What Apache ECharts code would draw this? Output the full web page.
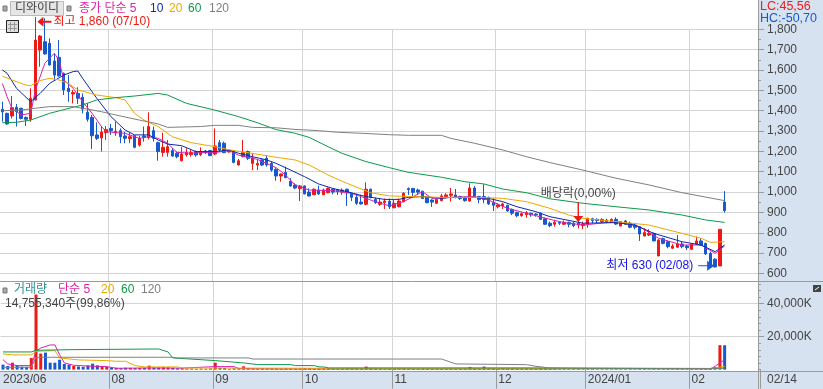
<!DOCTYPE html>
<html>
<head>
<meta charset="utf-8">
<style>html,body{margin:0;padding:0;background:#d6e2f0}#chart{width:823px;height:389px}</style>
<script src="https://cdn.jsdelivr.net/npm/echarts@6/dist/echarts.min.js"></script>
</head>
<body>
<div id="chart"></div>
<script>
// [open, close, low, high]
const candles = [
  [1407,1394,1346,1444],[1387,1335,1330,1390],[1374,1415,1362,1472],[1417,1395,1322,1433],[1412,1362,1357,1414],
  [1367,1358,1325,1371],[1358,1461,1346,1510],[1453,1747,1450,1860],[1698,1767,1616,1772],[1739,1679,1675,1854],
  [1731,1625,1621,1756],[1644,1575,1551,1682],[1662,1571,1568,1747],[1584,1502,1477,1587],[1510,1494,1444,1575],
  [1482,1489,1436,1502],[1485,1461,1433,1515],[1466,1408,1387,1485],[1392,1358,1346,1436],[1367,1277,1212,1379],
  [1281,1264,1256,1343],[1266,1295,1199,1325],[1292,1308,1256,1325],[1313,1302,1281,1335],[1292,1299,1276,1346],
  [1302,1272,1240,1313],[1276,1264,1240,1297],[1263,1272,1240,1292],[1277,1220,1215,1281],[1231,1264,1223,1276],
  [1276,1269,1248,1322],[1268,1322,1259,1392],[1302,1264,1248,1322],[1243,1199,1154,1248],[1195,1220,1174,1292],
  [1195,1223,1174,1256],[1204,1177,1174,1215],[1191,1174,1166,1199],[1154,1187,1151,1223],[1182,1195,1174,1215],
  [1184,1194,1174,1207],[1199,1182,1174,1204],[1184,1199,1177,1220],[1202,1194,1187,1207],[1204,1179,1177,1207],
  [1187,1227,1182,1313],[1243,1207,1199,1256],[1240,1194,1191,1248],[1197,1204,1194,1207],[1199,1146,1141,1204],
  [1133,1154,1130,1163],[1174,1194,1171,1256],[1199,1166,1158,1204],[1141,1168,1108,1190],[1133,1141,1108,1161],
  [1158,1133,1128,1161],[1166,1133,1125,1182],[1141,1108,1100,1149],[1112,1079,1056,1117],[1079,1089,1051,1092],
  [1097,1071,1068,1125],[1053,1030,1027,1068],[1035,1020,1014,1043],[1017,1030,956,1035],[1030,991,989,1033],
  [1000,981,978,1018],[987,1014,986,1018],[1010,991,986,1032],[987,1010,986,1017],[997,1018,994,1023],
  [1014,1000,989,1017],[1010,1002,986,1015],[1000,1010,986,1018],[1014,997,932,1017],[994,974,956,997],
  [974,945,937,991],[951,942,938,986],[940,1014,935,1048],[1014,974,969,1017],[964,948,942,973],
  [940,951,932,969],[948,956,917,968],[955,928,917,968],[923,945,920,961],[928,956,925,968],
  [953,994,950,1000],[1017,1012,986,1023],[1018,999,978,1020],[1010,1000,986,1017],[1004,968,966,1007],
  [974,948,945,978],[961,951,927,964],[945,964,942,968],[958,981,955,991],[978,986,969,994],
  [984,991,953,1020],[986,973,969,1015],[978,968,961,982],[973,958,953,978],[956,1020,953,1043],
  [1020,978,974,1030],[978,963,945,982],[978,963,945,1038],[973,942,937,978],[948,935,907,969],
  [928,937,920,945],[932,942,917,948],[935,907,904,938],[915,896,887,919],[899,884,876,904],
  [884,894,879,899],[889,899,874,907],[896,888,879,899],[892,888,879,896],[896,866,863,899],
  [869,842,838,874],[847,835,827,855],[842,851,830,863],[851,847,838,855],[842,851,838,860],
  [851,842,827,855],[847,835,827,855],[838,847,822,858],[835,843,817,855],[842,871,825,874],
  [869,860,847,874],[866,860,847,871],[855,866,850,871],[863,855,847,869],[853,866,850,871],
  [866,843,838,876],[833,855,833,855],[858,842,838,863],[847,827,822,855],[838,827,817,847],
  [830,794,760,833],[784,801,784,822],[789,797,784,817],[797,760,758,801],[686,765,686,768],
  [771,748,743,776],[756,732,724,761],[724,735,722,745],[729,745,727,789],[745,732,724,756],
  [735,727,715,740],[719,745,715,748],[745,760,740,781],[760,740,735,773],[748,696,691,751],
  [699,645,642,707],[670,632,630,675],[637,817,637,817],[951,909,899,1005]
];

const volumes = [
  3000,2200,4200,2600,1800,1700,7000,45500,9700,10300,4200,4200,6000,3400,3000,2200,1900,1700,2500,3600,
  2600,2200,1700,1200,1100,900,1100,1000,900,1000,1100,2400,1300,1300,1500,1400,1100,800,900,600,
  600,500,600,500,700,4200,1100,1000,500,800,700,2000,1000,800,700,700,700,800,
  700,600,800,700,500,600,900,800,700,700,800,600,500,400,500,900,800,600,500,
  1800,1000,700,500,400,600,500,600,900,500,500,400,700,500,400,500,600,400,500,500,400,400,
  1600,900,600,1800,1000,800,500,800,700,800,700,600,800,500,600,900,700,500,400,300,300,300,300,400,300,
  500,400,300,300,300,300,400,300,300,300,300,500,400,300,400,900,500,400,300,400,300,300,400,500,400,
  600,800,1600,14800,14755
];

// moving averages, read as [candle index, value] at the turning points
const ma5 = [[0,1534],[1,1469],[2,1412],[4,1379],[6,1387],[7,1502],[9,1633],[11,1682],[12,1649],[13,1551],[15,1510],[17,1444],[19,1387],[21,1322],[22,1297],[24,1292],[26,1289],[29,1264],[31,1272],[33,1264],[35,1240],[37,1195],[40,1191],[42,1194],[45,1194],[48,1204],[50,1182],[54,1161],[58,1120],[60,1084],[62,1035],[65,1010],[70,1007],[74,994],[79,953],[82,932],[85,953],[89,1002],[91,969],[95,974],[100,978],[103,961],[107,920],[111,896],[116,866],[119,850],[123,838],[130,855],[135,830],[139,773],[144,740],[148,740],[151,699],[153,735]];
const ma10 = [[0,1600],[1,1584],[3,1510],[6,1444],[8,1485],[10,1534],[13,1575],[15,1592],[16,1595],[17,1559],[20,1461],[23,1371],[26,1305],[28,1281],[31,1281],[33,1256],[35,1236],[38,1228],[41,1199],[45,1199],[48,1207],[50,1191],[53,1174],[56,1158],[58,1141],[61,1109],[64,1076],[67,1040],[70,1018],[73,1002],[77,978],[81,964],[84,964],[86,974],[89,978],[93,969],[95,974],[100,974],[103,969],[106,953],[109,928],[113,904],[116,879],[123,847],[130,850],[134,838],[138,797],[144,756],[148,740],[151,707],[153,740]];
const ma20 = [[0,1570],[2,1551],[5,1526],[6,1523],[8,1548],[10,1559],[12,1551],[14,1534],[16,1502],[20,1477],[24,1464],[26,1453],[28,1387],[30,1354],[33,1322],[36,1272],[40,1243],[45,1223],[49,1204],[53,1190],[58,1171],[62,1158],[65,1133],[69,1084],[73,1043],[78,997],[82,981],[87,978],[93,974],[97,974],[101,974],[106,969],[111,953],[116,920],[120,887],[123,871],[130,855],[137,838],[144,797],[148,773],[150,753],[153,756]];
const ma60 = [[0,1341],[3,1343],[6,1354],[10,1387],[15,1417],[17,1428],[20,1453],[24,1464],[28,1472],[33,1485],[35,1477],[39,1436],[45,1403],[50,1371],[54,1341],[58,1307],[62,1289],[65,1269],[69,1223],[72,1190],[77,1150],[82,1120],[86,1097],[93,1073],[98,1051],[102,1040],[106,1015],[111,997],[116,967],[123,945],[130,928],[137,912],[144,887],[149,863],[153,851]];
const ma120 = [[0,1400],[4,1403],[7,1412],[10,1420],[15,1420],[17,1412],[21,1395],[24,1379],[29,1354],[33,1335],[35,1318],[42,1322],[45,1328],[50,1328],[53,1318],[58,1316],[62,1308],[67,1302],[71,1294],[76,1289],[82,1282],[86,1279],[93,1279],[95,1264],[100,1240],[106,1207],[111,1174],[116,1145],[123,1108],[130,1068],[137,1035],[144,997],[153,958]];

const volMa5 = [[0,6060],[1,3434],[3,2424],[6,2424],[7,11100],[8,13100],[10,14950],[11,14950],[12,9090],[13,4040],[15,2626],[19,2020],[22,1818],[24,808],[31,1010],[38,900],[45,1818],[49,1818],[50,606],[58,400],[116,400],[125,600],[150,500],[151,2020],[152,4040],[153,6060]];
const volMa20 = [[0,9500],[2,8900],[6,8900],[7,11100],[11,11500],[12,7070],[16,5860],[22,5450],[24,5050],[26,5050],[28,2424],[30,1616],[37,1616],[38,1000],[69,800],[116,800],[125,500],[150,600],[153,2000]];
const volMa60 = [[0,10700],[6,10700],[7,11700],[15,12100],[33,12500],[35,10700],[36,7070],[45,5450],[51,4040],[54,3030],[61,3030],[62,2424],[66,2424],[67,1616],[68,1616],[69,1000],[113,1000],[125,800],[150,500],[153,900]];
const volMa120 = [[0,1400],[6,1400],[7,7470],[36,7470],[37,7070],[52,7070],[53,6400],[93,6400],[96,3434],[111,3000],[113,2000],[116,1000],[150,700],[153,900]];

const monthStarts = [0, 23, 45, 64, 83, 105, 124, 146];
const monthLabels = ['2023/06', '08', '09', '10', '11', '12', '2024/01', '02'];
const priceTicks = [600, 700, 800, 900, 1000, 1100, 1200, 1300, 1400, 1500, 1600, 1700, 1800];
const priceMinorTicks = [650, 750, 850, 950, 1050, 1150, 1250, 1350, 1450, 1550, 1650, 1750];
const volumeTicks = [20000, 40000];
const volumeMinorTicks = [0, 4000, 8000, 12000, 16000, 24000, 28000, 32000, 36000, 44000, 48000, 52000];

const highMark = { index: 7, price: 1860, text: '최고 1,860 (07/10)' };
const lowMark = { index: 151, price: 630, text: '최저 630 (02/08)' };
const dividendMark = { index: 122, price: 902, text: '배당락(0,00%)' };

const slotCount = 161; // 154 days + empty room on the right
const categories = [];
for (let i = 0; i < slotCount; i++) {
  const m = monthStarts.indexOf(i);
  categories.push(m >= 0 ? monthLabels[m] : '');
}

const RED = '#ec1a14', BLUE = '#1659cc', GRID = '#d4d4d4', AXIS = '#9a9a9a', PANEL = '#d6e2f0', INK = '#444';
const C5 = '#dc1fae', C10 = '#0c2aa8', C20 = '#eea800', C60 = '#0d9a48', C120 = '#808080';
const FONT = '"Liberation Sans","Noto Sans CJK KR",sans-serif';

const isMonth = i => monthStarts.indexOf(i) >= 0;
const isInnerMonth = i => i > 0 && isMonth(i);
const kLabel = v => echarts.format.addCommas(v) + 'K';

function label(text, x, y, fill, size) {
  return { type: 'text', z: 20, style: { text, x, y, fill, font: (size || 12) + 'px ' + FONT, textVerticalAlign: 'middle' } };
}
function rect(x, y, width, height, fill, z, stroke) {
  return { type: 'rect', z, shape: { x, y, width, height }, style: { fill, stroke: stroke || null, lineWidth: stroke ? 1 : 0 } };
}
function line(x1, y1, x2, y2, stroke, z) {
  return { type: 'line', z, shape: { x1, y1, x2, y2 }, style: { stroke, lineWidth: 1 } };
}
function maLine(name, data, color, xi, yi) {
  return { name, type: 'line', xAxisIndex: xi, yAxisIndex: yi, data, symbol: 'none', silent: true, z: 3, lineStyle: { color, width: 1 } };
}
function sideAxis(gridIndex, min, max, ticks, tickLen, showLabels, split, formatter) {
  return {
    type: 'value', gridIndex, position: 'right', min, max, offset: -2, scale: true,
    axisLine: { show: false },
    axisTick: { show: true, customValues: ticks, length: tickLen, lineStyle: { color: AXIS } },
    axisLabel: showLabels
      ? { show: true, customValues: ticks, margin: 9, color: INK, fontFamily: FONT, fontSize: 12, align: 'left', formatter }
      : { show: false },
    splitLine: { show: split, lineStyle: { color: GRID } }
  };
}

const chart = echarts.init(document.getElementById('chart'));

const option = {
  animation: false,
  backgroundColor: PANEL,
  grid: [
    { left: 0, top: 0, width: 760, height: 281 },
    { left: 0, top: 282, width: 760, height: 87.6 }
  ],
  xAxis: [
    {
      type: 'category', gridIndex: 0, data: categories, boundaryGap: true,
      axisLine: { show: false }, axisTick: { show: false }, axisLabel: { show: false },
      splitLine: { show: true, interval: isInnerMonth, showMaxLine: false, lineStyle: { color: GRID } }
    },
    {
      type: 'category', gridIndex: 1, data: categories, boundaryGap: true,
      axisLine: { show: false },
      axisTick: { show: true, interval: isInnerMonth, length: 19, lineStyle: { color: AXIS } },
      axisLabel: {
        show: true, interval: isMonth, align: 'left', margin: 4,
        color: INK, fontFamily: FONT, fontSize: 12, hideOverlap: false
      },
      splitLine: { show: true, interval: isInnerMonth, showMaxLine: false, lineStyle: { color: GRID } }
    }
  ],
  yAxis: [
    sideAxis(0, 563, 1944, priceTicks, 6, true, true),
    sideAxis(0, 563, 1944, priceMinorTicks, 3, false, false),
    sideAxis(1, 0, 53090, volumeTicks, 6, true, true, kLabel),
    sideAxis(1, 0, 53090, volumeMinorTicks, 3, false, false)
  ],
  series: [
    {
      name: '종가', type: 'candlestick', xAxisIndex: 0, yAxisIndex: 0, data: candles,
      barWidth: 3, silent: true,
      itemStyle: { color: RED, color0: BLUE, borderColor: RED, borderColor0: BLUE, borderWidth: 1 },
      markPoint: {
        silent: true,
        data: [
          {
            coord: [highMark.index, highMark.price], symbol: 'path://M0,5 L6,0 L6,4 L14,4 L14,6 L6,6 L6,10 Z',
            symbolSize: [14, 10], symbolOffset: [9, 4.6], itemStyle: { color: RED },
            label: { show: true, formatter: highMark.text, position: 'right', distance: 2, color: RED, fontFamily: FONT, fontSize: 12 }
          },
          {
            coord: [lowMark.index, lowMark.price], symbol: 'path://M0,4.4 L9,4.4 L9,0 L16,5 L9,10 L9,5.6 L0,5.6 Z',
            symbolSize: [16, 10], symbolOffset: [-9, -1.6], itemStyle: { color: BLUE },
            label: { show: true, formatter: lowMark.text, position: 'left', distance: 5, color: '#1414e0', fontFamily: FONT, fontSize: 12 }
          },
          {
            coord: [dividendMark.index, dividendMark.price], symbol: 'path://M4.3,0 L5.7,0 L5.7,14 L10,14 L5,20 L0,14 L4.3,14 Z',
            symbolSize: [10, 20], itemStyle: { color: RED },
            label: { show: true, formatter: dividendMark.text, position: 'top', distance: 2, color: INK, fontFamily: FONT, fontSize: 12 }
          }
        ]
      }
    },
    maLine('5', ma5, C5, 0, 0),
    maLine('10', ma10, C10, 0, 0),
    maLine('20', ma20, C20, 0, 0),
    maLine('60', ma60, C60, 0, 0),
    maLine('120', ma120, C120, 0, 0),
    {
      name: '거래량', type: 'bar', xAxisIndex: 1, yAxisIndex: 2, barWidth: 3, silent: true,
      data: volumes.map((v, i) => ({ value: v, itemStyle: { color: candles[i][1] >= candles[i][0] ? RED : BLUE } }))
    },
    maLine('v5', volMa5, C5, 1, 2),
    maLine('v20', volMa20, C20, 1, 2),
    maLine('v60', volMa60, C60, 1, 2),
    maLine('v120', volMa120, C120, 1, 2)
  ],
  graphic: { elements: [
    // panes
    rect(0, 0, 758, 371, '#fff', -1),
    rect(0, 0, 758, 29, '#fff', 1), // month lines stop at the 1,800 line
    line(0, 281.5, 823, 281.5, AXIS, 1),
    line(0, 371.5, 823, 371.5, AXIS, 1),
    line(758.5, 0, 758.5, 389, AXIS, 1),

    // price legend
    rect(3, 6, 4, 5, '#aaa', 20, '#777'),
    rect(10.5, 1.5, 53, 14, '#e6e6e6', 19, '#bbb'),
    label('디와이디', 15, 9, INK),
    rect(67, 6, 4, 5, '#aaa', 20, '#777'),
    label('종가 단순 5', 79, 9, C5),
    label('10', 150, 9, C10),
    label('20', 169, 9, C20),
    label('60', 188, 9, C60),
    label('120', 209, 9, C120),

    // table icon
    rect(6.5, 20.5, 12, 12, '#ddd', 20, '#222'),
    line(10.5, 22, 10.5, 31, '#999', 21),
    line(14.5, 22, 14.5, 31, '#999', 21),
    line(8, 24.5, 17, 24.5, '#999', 21),
    line(8, 28.5, 17, 28.5, '#999', 21),

    // LC / HC box sits over the top tick label
    rect(759, 0, 64, 24, PANEL, 19),
    label('LC:45,56', 760, 7, '#ee1c1c', 12.5),
    label('HC:-50,70', 760, 19, '#1659cc', 12.5),

    // volume legend
    rect(3, 288, 4, 5, '#aaa', 20, '#777'),
    label('거래량', 14, 290, '#2f9090'),
    label('단순 5', 58, 290, C5),
    label('20', 101, 290, C20),
    label('60', 121, 290, C60),
    label('120', 141, 290, C120),
    label('14,755,340주(99,86%)', 5, 304, INK),

    // expand icon and last date
    rect(813, 285, 8, 7, '#444', 20),
    line(815, 290, 819, 287, '#fff', 21),
    label('02/14', 767, 380, INK)
  ] }
};

chart.setOption(option);
</script>
</body>
</html>
